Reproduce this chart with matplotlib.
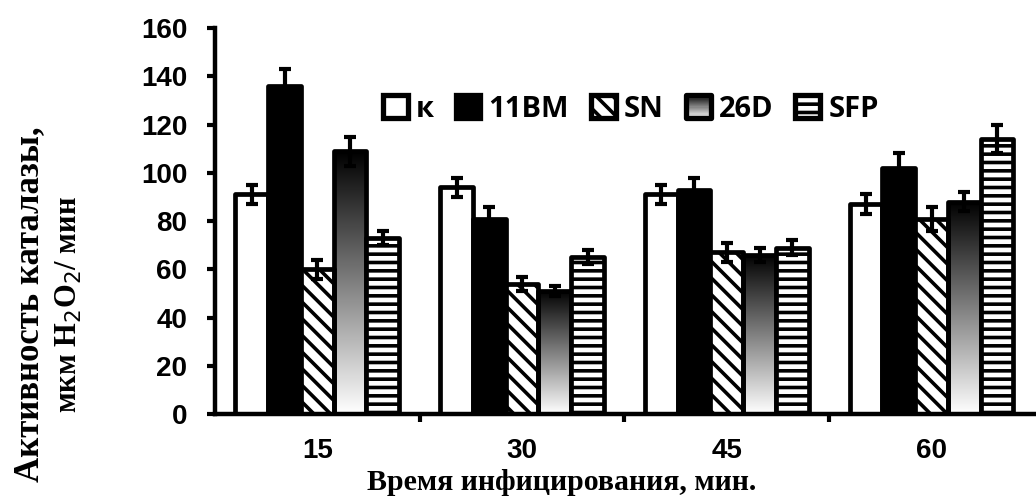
import numpy as np
import matplotlib
matplotlib.use("Agg")
import matplotlib.pyplot as plt
from matplotlib.patches import Rectangle
from matplotlib.legend_handler import HandlerBase

# catalase activity by infection time
times = ["15", "30", "45", "60"]
series = ["к", "11BM", "SN", "26D", "SFP"]
k_vals = [91, 94, 91, 87]
bm_vals = [136, 81, 93, 102]
sn_vals = [60, 54, 67, 81]
d26_vals = [109, 51, 66, 88]
sfp_vals = [73, 65, 69, 114]
k_err = [4, 4, 4, 4]
bm_err = [7, 5, 5, 6]
sn_err = [4, 3, 4, 5]
d26_err = [6, 2, 3, 4]
sfp_err = [3, 3, 3, 6]

values = [k_vals, bm_vals, sn_vals, d26_vals, sfp_vals]
errors = [k_err, bm_err, sn_err, d26_err, sfp_err]
styles = [
    dict(facecolor="white", hatch=None),
    dict(facecolor="black", hatch=None),
    dict(facecolor="white", hatch="\\\\"),
    dict(facecolor="none", hatch=None),   # gradient fill added below
    dict(facecolor="white", hatch="--"),
]

plt.rcParams["hatch.linewidth"] = 2.6
plt.rcParams["hatch.color"] = "black"

fig = plt.figure(figsize=(10.36, 4.99), dpi=100)
ax = fig.add_axes([0.2075, 0.1703, 0.7905, 0.7735])

# black at the top of the bar fading to white at the base
grad = np.linspace(0, 1, 256).reshape(-1, 1)
x = np.arange(len(times))
w = 0.16
for i, (vals, errs, st) in enumerate(zip(values, errors, styles)):
    pos = x + (i - 2) * w
    bars = ax.bar(pos, vals, width=w, edgecolor="black", linewidth=3.4,
                  facecolor=st["facecolor"], hatch=st["hatch"],
                  joinstyle="round", zorder=2)
    if series[i] == "26D":
        for b in bars:
            im = ax.imshow(grad, cmap="gray", vmin=0, vmax=1, aspect="auto",
                           extent=[b.get_x(), b.get_x() + b.get_width(), 0, b.get_height()],
                           origin="upper", zorder=1.5)
            im.set_clip_path(b)
    ax.errorbar(pos, vals, yerr=errs, fmt="none", ecolor="black",
                elinewidth=3, capsize=4.5, capthick=3, zorder=3)

ax.set_xlim(-0.5, 3.5)
ax.set_ylim(0, 160)
ax.set_yticks(np.arange(0, 161, 20))
ax.set_xticks([0.5, 1.5, 2.5])
ax.set_xticklabels([])
ax.set_xticks(x, minor=True)
ax.set_xticklabels(times, minor=True)
ax.tick_params(axis="x", which="minor", length=0, pad=17)
ax.tick_params(axis="x", which="major", length=6, width=3, direction="out")
ax.tick_params(axis="y", length=6, width=3, direction="out", pad=14)
for lab in ax.get_xticklabels(minor=True) + ax.get_yticklabels():
    lab.set_fontfamily("Liberation Sans")
    lab.set_fontweight("bold")
    lab.set_fontsize(20)

for s in ["top", "right"]:
    ax.spines[s].set_visible(False)
for s in ["left", "bottom"]:
    ax.spines[s].set_linewidth(3.2)


class GradientHandler(HandlerBase):
    def create_artists(self, legend, orig_handle, xdescent, ydescent,
                       width, height, fontsize, trans):
        arts = []
        n = 20
        for j in range(n):
            g = j / (n - 1)
            arts.append(Rectangle((-xdescent, -ydescent + height * j / n), width,
                                  height / n + 0.3, facecolor=str(0.95 - 0.9 * g),
                                  edgecolor="none", transform=trans))
        arts.append(Rectangle((-xdescent, -ydescent), width, height, facecolor="none",
                              edgecolor="black", linewidth=3.8, joinstyle="round",
                              transform=trans))
        return arts


handles = []
for st in styles:
    fc = st["facecolor"] if st["facecolor"] != "none" else "white"
    handles.append(Rectangle((0, 0), 1, 1, facecolor=fc, edgecolor="black",
                             linewidth=3.8, hatch=st["hatch"], joinstyle="round"))
leg = ax.legend(handles, series, loc="center left", bbox_to_anchor=(0.205, 0.79), ncol=5,
                frameon=False, handlelength=0.85, handleheight=0.85, handletextpad=0.28,
                columnspacing=0.75, borderaxespad=0, borderpad=0,
                prop=dict(family="Open Sans", weight="bold", size=21),
                handler_map={handles[3]: GradientHandler()})

fig.text(0.029, 0.39, "Активность каталазы,", rotation=90, ha="center", va="center",
         family="Liberation Serif", weight="bold", fontsize=25)
fig.text(0.067, 0.39, "мкм H$_2$O$_2$/ мин", rotation=90, ha="center", va="center",
         family="Liberation Serif", weight="bold", fontsize=22)
fig.text(0.542, 0.018, "Время инфицирования, мин.", ha="center", va="baseline",
         family="Liberation Serif", weight="bold", fontsize=21.5)

fig.savefig("out.png", dpi=100)
